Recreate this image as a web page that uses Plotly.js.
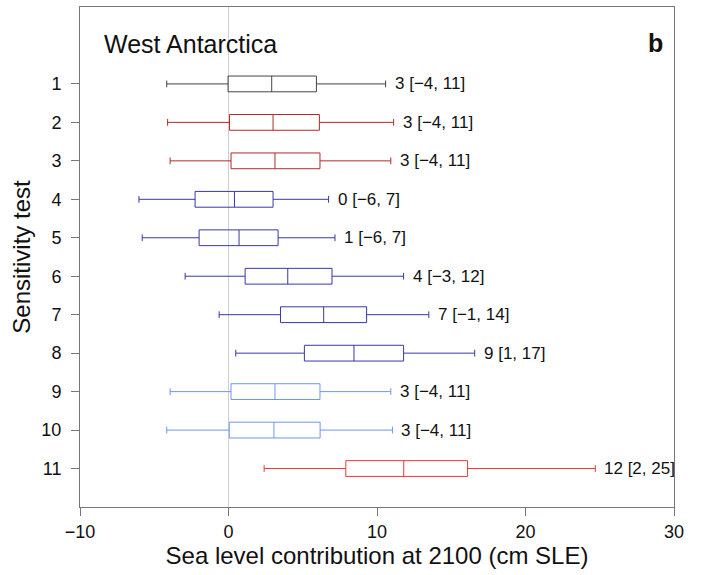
<!DOCTYPE html>
<html>
<head>
<meta charset="utf-8">
<script src="https://cdn.plot.ly/plotly-3.0.1.min.js"></script>
<style>html,body{margin:0;padding:0;background:#fff;}#chart{width:703px;height:575px;}</style>
</head>
<body>
<div id="chart"></div>
<script>
// Sensitivity tests (y categories)
const tests = [1, 2, 3, 4, 5, 6, 7, 8, 9, 10, 11];
// Box statistics (cm SLE at 2100)
const lowWhisker  = [-4.16, -4.10, -3.93, -6.03, -5.81, -2.92, -0.63, 0.49, -3.93, -4.16, 2.40];
const q1Values    = [-0.03, 0.07, 0.17, -2.25, -1.98, 1.12, 3.50, 5.11, 0.17, 0.05, 7.90];
const medians     = [2.91, 3.00, 3.13, 0.40, 0.71, 3.99, 6.41, 8.45, 3.13, 3.06, 11.80];
const q3Values    = [5.92, 6.12, 6.16, 3.00, 3.34, 6.97, 9.30, 11.79, 6.16, 6.17, 16.10];
const highWhisker = [10.58, 11.12, 10.93, 6.74, 7.17, 11.79, 13.49, 16.58, 10.93, 11.04, 24.70];
// Text labels: median [5%, 95%]
const labels = ["3 [\u22124, 11]", "3 [\u22124, 11]", "3 [\u22124, 11]", "0 [\u22126, 7]", "1 [\u22126, 7]",
                "4 [\u22123, 12]", "7 [\u22121, 14]", "9 [1, 17]", "3 [\u22124, 11]", "3 [\u22124, 11]", "12 [2, 25]"];
const colors = ["#444444", "#b22a2a", "#b22a2a", "#3838a8", "#3838a8", "#3838a8", "#3838a8", "#3838a8",
                "#6e96eb", "#6e96eb", "#e8383a"];
const xTicks = [-10, 0, 10, 20, 30];
const xTickText = ["\u221210", "0", "10", "20", "30"];

const FONT = "Liberation Sans, Arial, Helvetica, sans-serif";

const traces = tests.map((t, i) => ({
  type: "box",
  orientation: "h",
  y: [t],
  q1: [q1Values[i]],
  median: [medians[i]],
  q3: [q3Values[i]],
  lowerfence: [lowWhisker[i]],
  upperfence: [highWhisker[i]],
  width: 0.41,
  whiskerwidth: 0.43,
  boxpoints: false,
  fillcolor: "rgba(255,255,255,0)",
  line: {color: colors[i], width: 1},
  hoverinfo: "skip",
  showlegend: false
}));

const annotations = tests.map((t, i) => ({
  x: highWhisker[i], y: t, xref: "x", yref: "y",
  text: labels[i], showarrow: false, xanchor: "left", yanchor: "middle",
  xshift: 7, font: {family: FONT, size: 17, color: "#111"}
}));
annotations.push({
  xref: "paper", yref: "paper", x: 0.037, y: 0.926, xanchor: "left", yanchor: "middle",
  text: "West Antarctica", showarrow: false, font: {family: FONT, size: 25, color: "#111"}
});
annotations.push({
  xref: "paper", yref: "paper", x: 0.985, y: 0.928, xanchor: "right", yanchor: "middle",
  text: "<b>b</b>", showarrow: false, font: {family: FONT, size: 25, color: "#111"}
});

const layout = {
  width: 703, height: 575,
  margin: {l: 80, r: 29, t: 7, b: 68},
  paper_bgcolor: "#fff", plot_bgcolor: "#fff",
  font: {family: FONT, color: "#111"},
  xaxis: {
    range: [-10, 30], tickvals: xTicks, ticktext: xTickText,
    showgrid: false, zeroline: true, zerolinecolor: "#d0d0d0", zerolinewidth: 1,
    showline: true, mirror: true, linecolor: "#777", linewidth: 1,
    ticks: "outside", ticklen: 8, tickcolor: "#777",
    tickfont: {family: FONT, size: 18, color: "#111"},
    title: {text: "Sea level contribution at 2100 (cm SLE)", font: {family: FONT, size: 24, color: "#111"}, standoff: 2}
  },
  yaxis: {
    range: [12, -1], tickvals: tests, ticktext: tests.map(String),
    showgrid: false, zeroline: false,
    showline: true, mirror: true, linecolor: "#777", linewidth: 1,
    ticks: "outside", ticklen: 8, tickcolor: "#777", ticklabelstandoff: 6,
    tickfont: {family: FONT, size: 18, color: "#111"},
    title: {text: "Sensitivity test", font: {family: FONT, size: 24, color: "#111"}, standoff: 3}
  },
  annotations: annotations
};

Plotly.newPlot("chart", traces, layout, {displayModeBar: false, staticPlot: true});
</script>
</body>
</html>
